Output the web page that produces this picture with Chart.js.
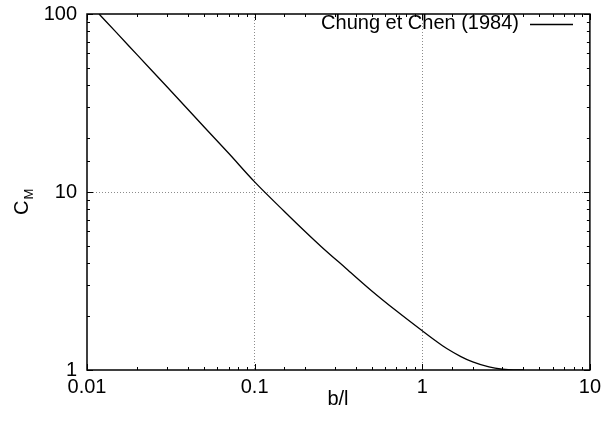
<!DOCTYPE html>
<html>
<head>
<meta charset="utf-8">
<script src="https://cdn.jsdelivr.net/npm/chart.js@4/dist/chart.umd.min.js"></script>
<style>
  body { margin: 0; background: #fff; }
  canvas { display: block; }
</style>
</head>
<body>
<canvas id="cmChart" width="606" height="421"></canvas>
<script>
// values (log-log)
const bOverL = [0.0118, 0.015, 0.02, 0.03, 0.05, 0.07, 0.1, 0.15, 0.2, 0.25, 0.35, 0.5, 0.7, 1.0, 1.2, 1.4, 1.7, 2.0, 2.5, 3.0, 3.5, 4.0];
const cmValues = [100, 78.6, 58.7, 39.0, 23.2, 16.5, 11.4, 7.8, 6.0, 4.93, 3.73, 2.78, 2.15, 1.66, 1.46, 1.32, 1.19, 1.11, 1.04, 1.01, 1.0, 1.0];
const xTickLabels = [0.01, 0.1, 1, 10];
const yTickLabels = [1, 10, 100];
const seriesName = "Chung et Chen (1984)";

const FONT = "'Liberation Sans', Arial, Helvetica, sans-serif";

function isMajor(v) {
    const l = Math.log10(v);
    return Math.abs(l - Math.round(l)) < 1e-6;
}

// gnuplot style frame, inward ticks, legend and axis titles
const gnuplotFrame = {
    id: "gnuplotFrame",
    afterDraw(chart) {
        const ctx = chart.ctx;
        const a = chart.chartArea;
        const xs = chart.scales.x, ys = chart.scales.y;
        ctx.save();
        ctx.strokeStyle = "#000";
        ctx.lineWidth = 1;
        ctx.beginPath();
        xs.ticks.forEach(t => {
            const px = Math.round(xs.getPixelForValue(t.value)) + 0.5;
            const len = isMajor(t.value) ? 6 : 3;
            ctx.moveTo(px, a.bottom); ctx.lineTo(px, a.bottom - len);
            ctx.moveTo(px, a.top); ctx.lineTo(px, a.top + len);
        });
        ys.ticks.forEach(t => {
            const py = Math.round(ys.getPixelForValue(t.value)) + 0.5;
            const len = isMajor(t.value) ? 6 : 3;
            ctx.moveTo(a.left, py); ctx.lineTo(a.left + len, py);
            ctx.moveTo(a.right, py); ctx.lineTo(a.right - len, py);
        });
        ctx.stroke();

        ctx.lineWidth = 1.5;
        ctx.strokeRect(a.left, a.top, a.right - a.left, a.bottom - a.top);

        // legend inside top right
        ctx.fillStyle = "#000";
        ctx.font = "20px " + FONT;
        ctx.textAlign = "right";
        ctx.textBaseline = "middle";
        ctx.fillText(seriesName, 519, 23);
        ctx.lineWidth = 1.3;
        ctx.beginPath();
        ctx.moveTo(530, 24.5);
        ctx.lineTo(573, 24.5);
        ctx.stroke();

        // x title
        ctx.textAlign = "center";
        ctx.textBaseline = "alphabetic";
        ctx.fillText("b/l", 338, 405);

        // y title C_M, rotated
        ctx.translate(28, 215);
        ctx.rotate(-Math.PI / 2);
        ctx.textAlign = "left";
        ctx.font = "20px " + FONT;
        ctx.fillText("C", 0, 0);
        const w = ctx.measureText("C").width;
        ctx.font = "13px " + FONT;
        ctx.fillText("M", w + 1, 5);
        ctx.restore();
    }
};

new Chart("cmChart", {
    type: "line",
    data: {
        datasets: [{
            label: seriesName,
            data: bOverL.map((b, i) => ({ x: b, y: cmValues[i] })),
            borderColor: "#000",
            borderWidth: 1.3,
            pointRadius: 0,
            fill: false,
            cubicInterpolationMode: "monotone"
        }]
    },
    options: {
        responsive: false,
        animation: false,
        devicePixelRatio: 1,
        layout: { padding: { top: 14, right: 16, left: 0, bottom: 0 } },
        plugins: { legend: { display: false }, tooltip: { enabled: false } },
        scales: {
            x: {
                type: "logarithmic",
                min: 0.01,
                max: 10,
                afterFit(scale) { scale.height = 51; },
                grid: {
                    drawTicks: false,
                    color(c) {
                        const v = c.tick.value;
                        return (isMajor(v) && v > 0.011 && v < 9) ? "#8c8c8c" : "rgba(0,0,0,0)";
                    },
                    lineWidth: 1
                },
                border: { display: false, dash: [1, 2] },
                ticks: {
                    autoSkip: false,
                    maxRotation: 0,
                    padding: 5,
                    color: "#000",
                    font: { family: FONT, size: 20 },
                    callback(v) {
                        return xTickLabels.some(t => Math.abs(t - v) < 1e-9) ? String(v) : "";
                    }
                }
            },
            y: {
                type: "logarithmic",
                min: 1,
                max: 100,
                afterFit(scale) {
                    scale.width = 87;
                    scale.paddingTop = 0;
                    scale.paddingBottom = 0;
                },
                grid: {
                    drawTicks: false,
                    color(c) {
                        const v = c.tick.value;
                        return (isMajor(v) && v > 1.1 && v < 90) ? "#8c8c8c" : "rgba(0,0,0,0)";
                    },
                    lineWidth: 1
                },
                border: { display: false, dash: [1, 2] },
                ticks: {
                    autoSkip: false,
                    padding: 10,
                    color: "#000",
                    font: { family: FONT, size: 20 },
                    callback(v) {
                        return yTickLabels.some(t => Math.abs(t - v) < 1e-9) ? String(v) : "";
                    }
                }
            }
        }
    },
    plugins: [gnuplotFrame]
});
</script>
</body>
</html>
